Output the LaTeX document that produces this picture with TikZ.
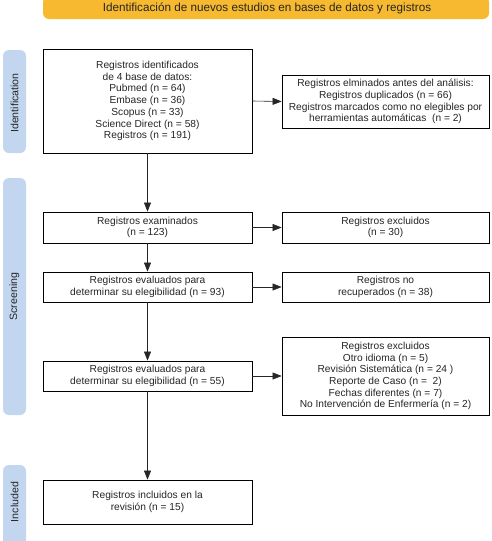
\documentclass[tikz,border=0pt]{standalone}
\usepackage{fontspec}
\setmainfont{Liberation Sans}
\usetikzlibrary{arrows.meta}
\definecolor{banner}{HTML}{F6B92F}
\definecolor{side}{HTML}{C3D6F0}
\definecolor{txt}{HTML}{262626}
\begin{document}
\begin{tikzpicture}[x=1pt,y=-1pt,
  box/.style={draw=black,line width=0.8pt,fill=white,align=center,text=txt,font=\fontsize{10.2}{11.7}\selectfont,inner sep=0pt},
  sidebar/.style={fill=side,rounded corners=6pt},
  sidelbl/.style={rotate=90,text=txt,font=\fontsize{10.6}{12}\selectfont},
  conn/.style={line width=0.6pt,draw=black!85,-{Triangle[length=9pt,width=7pt]}}]
\useasboundingbox (0,0) rectangle (492,541);
% banner
\fill[banner,rounded corners=6pt] (43,-4) rectangle (489,19);
\node[text=txt,font=\fontsize{11.7}{13}\selectfont] (ban) at (267,8.5) {Identificación de nuevos estudios en bases de datos y registros};
% side bars
\fill[sidebar] (3,50) rectangle (26,153);
\node[sidelbl] (sid) at (14.5,103) {Identification};
\fill[sidebar] (3,178) rectangle (26,415);
\node[sidelbl] (sscr) at (14.5,296.5) {Screening};
\fill[sidebar] (3,465) rectangle (26,548);
\node[sidelbl] (sinc) at (14.5,502) {Included};
% boxes
\node[box,minimum width=209pt,minimum height=104pt] (id) at (147.5,101) {Registros identificados\\de 4 base de datos:\\Pubmed (n = 64)\\Embase (n = 36)\\Scopus (n = 33)\\Science Direct (n = 58)\\Registros (n = 191)};
\node[box,minimum width=207pt,minimum height=53pt] (rem) at (385.5,101.5) {Registros elminados antes del análisis:\\Registros duplicados (n = 66)\\Registros marcados como no elegibles por\\herramientas automáticas~ (n = 2)};
\node[box,minimum width=209pt,minimum height=31pt] (exa) at (147.5,227.5) {Registros examinados\\(n = 123)};
\node[box,minimum width=207pt,minimum height=31pt] (exc) at (385.5,227.5) {Registros excluidos\\(n = 30)};
\node[box,minimum width=209pt,minimum height=30pt] (ev1) at (147.5,287) {Registros evaluados para\\determinar su elegibilidad (n = 93)};
\node[box,minimum width=207pt,minimum height=30pt] (nrec) at (385.5,287) {Registros no\\recuperados (n = 38)};
\node[box,minimum width=209pt,minimum height=30pt] (ev2) at (147.5,376) {Registros evaluados para\\determinar su elegibilidad (n = 55)};
\node[box,minimum width=207pt,minimum height=78pt] (exc2) at (385.5,376) {Registros excluidos\\Otro idioma (n = 5)\\Revisión Sistemática (n = 24 )\\Reporte de Caso (n = ~2)\\Fechas diferentes (n = 7)\\No Intervención de Enfermería (n = 2)};
\node[box,minimum width=209pt,minimum height=44pt] (inc) at (147.5,502) {Registros incluidos en la\\revisión (n = 15)};
% connectors
\draw[conn] (id.south) -- (exa.north);
\draw[conn] (exa.south) -- (ev1.north);
\draw[conn] (ev1.south) -- (ev2.north);
\draw[conn] (ev2.south) -- (inc.north);
\draw[conn] (id.east) -- (rem.west);
\draw[conn] (exa.east) -- (exc.west);
\draw[conn] (ev1.east) -- (nrec.west);
\draw[conn] (ev2.east) -- (exc2.west);
\end{tikzpicture}
\end{document}
